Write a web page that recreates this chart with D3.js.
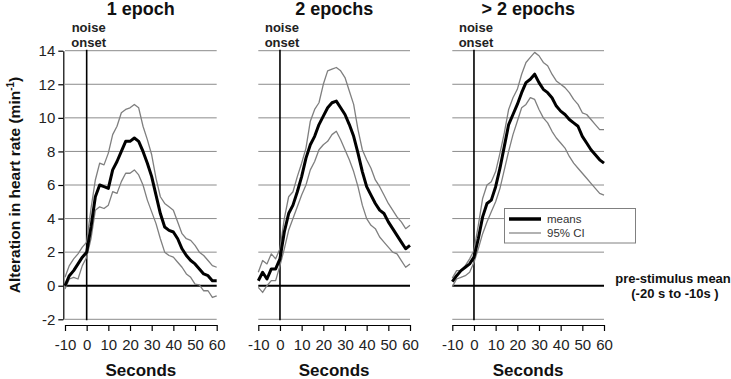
<!DOCTYPE html>
<html>
<head>
<meta charset="utf-8">
<script src="https://cdn.jsdelivr.net/npm/d3@7"></script>
<style>
  html, body { margin: 0; padding: 0; background: #fff; }
  svg { display: block; }
  text { font-family: "Liberation Sans", Arial, sans-serif; }
</style>
</head>
<body>
<svg id="chart" width="731" height="379"></svg>
<script>
// ---------- data ----------
const seconds = [-10,-8,-6,-4,-2,0,2,4,6,8,10,12,14,16,18,20,22,24,26,28,30,32,34,36,38,40,42,44,46,48,50,52,54,56,58,60];
const panelTitles = ["1 epoch", "2 epochs", "> 2 epochs"];
const yTicks = [-2, 0, 2, 4, 6, 8, 10, 12, 14];
const xTicks = [-10, 0, 10, 20, 30, 40, 50, 60];

const mean1  = [0.0,0.6,0.9,1.3,1.7,2.0,3.5,5.3,6.0,5.9,5.8,6.9,7.4,8.0,8.6,8.6,8.8,8.6,8.0,7.3,6.5,5.4,4.3,3.5,3.3,3.2,2.8,2.2,1.8,1.5,1.3,1.0,0.7,0.6,0.3,0.3];
const upper1 = [0.5,1.2,1.6,1.9,2.3,2.6,4.6,6.3,7.3,7.2,7.9,9.0,9.5,10.3,10.5,10.6,10.8,10.6,9.5,8.7,7.8,6.4,5.3,4.9,4.7,4.5,3.8,3.1,2.8,2.7,2.4,2.0,1.8,1.5,1.2,1.1];
const lower1 = [-0.2,0.4,0.5,0.4,1.2,1.7,2.8,4.5,4.7,4.6,4.8,5.6,5.5,6.2,6.7,6.7,6.9,6.6,6.0,5.1,4.4,3.7,2.8,2.0,1.8,1.7,1.4,1.1,0.7,0.5,0.1,0.05,-0.3,-0.3,-0.7,-0.6];

const mean2  = [0.3,0.8,0.4,1.0,1.0,1.6,3.2,4.3,4.8,5.6,6.5,7.6,8.4,8.9,9.6,10.1,10.6,10.9,11.0,10.6,10.2,9.6,8.9,7.9,6.8,5.9,5.4,4.9,4.5,4.3,3.8,3.4,3.0,2.6,2.2,2.4];
const upper2 = [0.8,1.5,1.3,1.9,1.6,2.2,4.0,5.3,5.6,6.5,7.3,8.2,9.8,10.5,10.9,12.0,12.8,12.9,13.0,12.8,12.4,11.6,10.8,9.3,8.1,7.5,7.0,6.3,5.9,5.4,4.9,4.5,4.1,3.8,3.4,3.6];
const lower2 = [-0.1,-0.4,0.0,0.3,0.3,1.2,2.2,3.3,4.0,4.7,5.4,6.0,6.9,7.4,8.1,8.4,8.6,9.0,9.2,8.7,8.1,7.5,6.8,5.9,4.8,4.0,3.6,3.4,2.9,2.6,2.3,2.0,1.9,1.5,1.1,1.3];

const mean3  = [0.25,0.6,0.9,1.1,1.3,1.7,2.8,4.1,4.9,5.1,5.9,7.0,8.3,9.6,10.2,10.8,11.5,12.1,12.3,12.6,12.1,11.7,11.5,11.2,10.7,10.4,10.2,9.9,9.7,9.5,8.9,8.5,8.1,7.8,7.5,7.3];
const upper3 = [0.45,0.9,0.9,1.2,1.6,2.1,3.6,5.2,6.0,6.2,6.8,7.9,9.1,10.5,11.2,11.7,12.6,13.3,13.6,13.9,13.7,13.3,13.1,12.6,12.2,12.0,11.8,11.5,11.1,10.8,10.3,10.2,9.9,9.6,9.3,9.3];
const lower3 = [-0.05,0.4,0.5,0.6,0.8,1.4,2.2,3.1,3.8,4.4,5.0,5.8,6.9,8.0,9.0,9.8,10.6,10.8,11.2,11.1,10.5,10.0,9.7,9.2,8.8,8.5,8.2,7.7,7.3,7.0,6.7,6.4,6.1,5.8,5.5,5.4];

const panels = [
  {title: panelTitles[0], mean: mean1, upper: upper1, lower: lower1},
  {title: panelTitles[1], mean: mean2, upper: upper2, lower: lower2},
  {title: panelTitles[2], mean: mean3, upper: upper3, lower: lower3}
];

// ---------- layout ----------
const svg = d3.select("#chart");
const panelLeft = [65, 258.3, 452.3];
const panelW = 151.7;
const yTop = 50.7, yBot = 319.3;
const xAxisY = 325;
const font = '"Liberation Sans", Arial, sans-serif';

const y = d3.scaleLinear().domain([-2, 14]).range([yBot, yTop]);

panels.forEach((p, i) => {
  const x0 = panelLeft[i];
  const x = d3.scaleLinear().domain([-10, 60]).range([x0, x0 + panelW]);
  const g = svg.append("g");

  // gridlines
  g.selectAll("line.grid").data(yTicks.filter(d => d !== 0)).join("line")
    .attr("x1", x(-10)).attr("x2", x(60))
    .attr("y1", d => y(d)).attr("y2", d => y(d))
    .attr("stroke", "#8c8c8c").attr("stroke-width", 1);

  // zero (pre-stimulus mean) line
  g.append("line")
    .attr("x1", x(-10)).attr("x2", x(60))
    .attr("y1", y(0)).attr("y2", y(0))
    .attr("stroke", "#000").attr("stroke-width", 2);

  // noise onset vertical line
  g.append("line")
    .attr("x1", x(0)).attr("x2", x(0))
    .attr("y1", y(14) - 1).attr("y2", y(-2) + 1)
    .attr("stroke", "#000").attr("stroke-width", 1.6);

  // x axis
  const xa = g.append("g").attr("transform", `translate(0,${xAxisY})`)
    .call(d3.axisBottom(x).tickValues(xTicks).tickSize(6).tickSizeOuter(0).tickPadding(8)
      .tickFormat(d3.format("d")));
  xa.select(".domain").attr("stroke", "#000").attr("stroke-width", 1.2);
  xa.selectAll(".tick line").attr("stroke", "#000").attr("stroke-width", 1.2);
  xa.selectAll(".tick text").attr("font-family", font).attr("font-size", 15).attr("fill", "#222")
    .text(d => d < 0 ? "-" + Math.abs(d) : d);

  // y axis only on first panel
  if (i === 0) {
    const ya = g.append("g").attr("transform", `translate(${x0 - 1.7},0)`)
      .call(d3.axisLeft(y).tickValues(yTicks).tickSize(5).tickSizeOuter(0).tickPadding(3)
        .tickFormat(d => d < 0 ? "-" + Math.abs(d) : d));
    ya.select(".domain").attr("stroke", "#000").attr("stroke-width", 1.2);
    ya.selectAll(".tick line").attr("stroke", "#000").attr("stroke-width", 1.2);
    ya.selectAll(".tick text").attr("font-family", font).attr("font-size", 15).attr("fill", "#222");
  }

  // curves
  const line = d3.line().x((d, k) => x(seconds[k])).y(d => y(d)).curve(d3.curveLinear);
  [p.upper, p.lower].forEach(s => {
    g.append("path").datum(s).attr("d", line)
      .attr("fill", "none").attr("stroke", "#7f7f7f").attr("stroke-width", 1.3)
      .attr("stroke-linejoin", "round");
  });
  g.append("path").datum(p.mean).attr("d", line)
    .attr("fill", "none").attr("stroke", "#000").attr("stroke-width", 3)
    .attr("stroke-linejoin", "round");

  // title
  g.append("text").attr("x", x0 + panelW / 2).attr("y", 15)
    .attr("text-anchor", "middle").attr("font-weight", "bold").attr("font-size", 18)
    .attr("fill", "#111").text(p.title);

  // noise onset
  const no = g.append("text").attr("x", x(0) + 2).attr("y", 32)
    .attr("text-anchor", "middle").attr("font-weight", "bold").attr("font-size", 13).attr("fill", "#222");
  no.append("tspan").attr("x", x(0) + 2).attr("dy", 0).text("noise");
  no.append("tspan").attr("x", x(0) + 2).attr("dy", 15).text("onset");

  // x axis title
  g.append("text").attr("x", x0 + panelW / 2).attr("y", 376)
    .attr("text-anchor", "middle").attr("font-weight", "bold").attr("font-size", 17)
    .attr("fill", "#111").text("Seconds");
});

// y axis title
const yt = svg.append("text")
  .attr("transform", `translate(20,${(yTop + yBot) / 2}) rotate(-90)`)
  .attr("text-anchor", "middle").attr("font-weight", "bold").attr("font-size", 15.5).attr("fill", "#111");
yt.append("tspan").text("Alteration in heart rate (min");
yt.append("tspan").attr("font-size", 10).attr("dy", -6).text("-1");
yt.append("tspan").attr("dy", 6).text(")");

// legend
const lg = svg.append("g");
lg.append("rect").attr("x", 504.5).attr("y", 208.5).attr("width", 131).attr("height", 34.5)
  .attr("fill", "#fff").attr("stroke", "#808080").attr("stroke-width", 1);
lg.append("line").attr("x1", 509).attr("x2", 541).attr("y1", 219).attr("y2", 219)
  .attr("stroke", "#000").attr("stroke-width", 3.5);
lg.append("line").attr("x1", 509).attr("x2", 541).attr("y1", 233).attr("y2", 233)
  .attr("stroke", "#7f7f7f").attr("stroke-width", 1.2);
lg.append("text").attr("x", 547).attr("y", 223).attr("font-size", 11.5).attr("fill", "#333").text("means");
lg.append("text").attr("x", 547).attr("y", 237).attr("font-size", 11.5).attr("fill", "#333").text("95% CI");

// pre-stimulus mean annotation
const pm = svg.append("text").attr("text-anchor", "middle").attr("font-weight", "bold")
  .attr("font-size", 13).attr("fill", "#111");
pm.append("tspan").attr("x", 673).attr("y", 283).text("pre-stimulus mean");
pm.append("tspan").attr("x", 675).attr("y", 298).text("(-20 s to -10s )");
</script>
</body>
</html>
